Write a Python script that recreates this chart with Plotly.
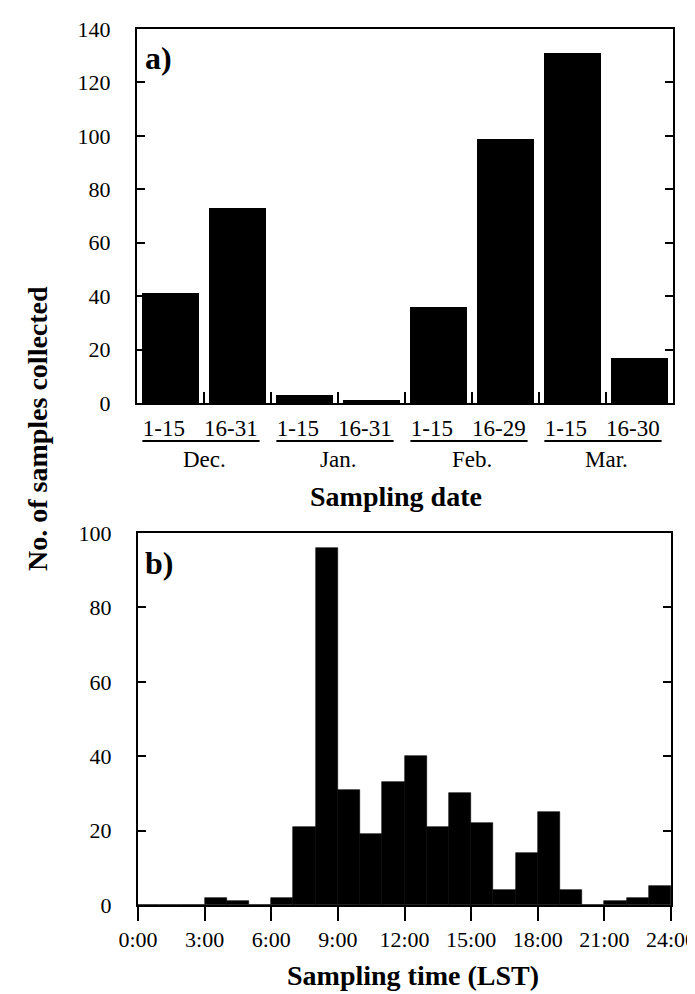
import plotly.graph_objects as go
import numpy as np

# ---- data ----
period_labels = ["1-15", "16-31", "1-15", "16-31", "1-15", "16-29", "1-15", "16-30"]
month_labels = ["Dec.", "Jan.", "Feb.", "Mar."]
date_counts = [41, 73, 3, 1, 36, 99, 131, 17]

hour_tick_labels = ["0:00", "3:00", "6:00", "9:00", "12:00", "15:00", "18:00", "21:00", "24:00"]
hour_tick_values = [0, 3, 6, 9, 12, 15, 18, 21, 24]
hourly_counts = [0, 0, 0, 2, 1, 0, 2, 21, 96, 31, 19, 33, 40, 21, 30, 22, 4, 14, 25, 4, 0, 1, 2, 5]

date_yticks = [0, 20, 40, 60, 80, 100, 120, 140]
time_yticks = [0, 20, 40, 60, 80, 100]

W, H = 695, 994
FONT = "Liberation Serif"

def px_x(v):
    return v / W

def px_y(v):
    return 1 - v / H

fig = go.Figure()

# panel a
idx = np.arange(len(date_counts))
fig.add_trace(go.Bar(x=idx, y=date_counts, width=0.86, marker=dict(color="black", line=dict(width=0)),
                     xaxis="x", yaxis="y", showlegend=False, hoverinfo="x+y"))

# panel b
hour_starts = np.arange(len(hourly_counts))
fig.add_trace(go.Bar(x=hour_starts + 0.5, y=hourly_counts, width=1.0,
                     marker=dict(color="black", line=dict(width=0.6, color="black")),
                     xaxis="x2", yaxis="y2", showlegend=False))

tickfont = dict(family=FONT, size=22, color="black")
catfont = dict(family=FONT, size=23, color="black")

fig.update_layout(
    width=W, height=H,
    margin=dict(l=0, r=0, t=0, b=0, autoexpand=False),
    paper_bgcolor="white", plot_bgcolor="white",
    bargap=0,
    xaxis=dict(
        domain=[px_x(129), px_x(665)], anchor="y", automargin=False,
        range=[-0.5, len(date_counts) - 0.5],
        tickmode="array", tickvals=list(idx - 0.1), ticktext=period_labels,
        ticks="", showgrid=False, zeroline=False,
        showline=True, linecolor="black", linewidth=2, mirror=True,
        tickfont=catfont, ticklabelstandoff=3,
        minor=dict(tickmode="array", tickvals=list(idx[:-1] + 0.5), ticks="inside",
                   ticklen=11, tickwidth=2, tickcolor="black", showgrid=False),
    ),
    yaxis=dict(
        domain=[px_y(395), px_y(21)], anchor="x", automargin=False,
        range=[0, 140], tickmode="array", tickvals=date_yticks,
        ticks="inside", ticklen=8, tickwidth=2, tickcolor="black",
        showline=True, linecolor="black", linewidth=2, mirror="ticks",
        showgrid=False, zeroline=False, tickfont=tickfont, ticklabelstandoff=20,
    ),
    xaxis2=dict(
        domain=[px_x(130), px_x(663)], anchor="y2", automargin=False,
        range=[0, 24], tickmode="array", tickvals=hour_tick_values, ticktext=hour_tick_labels,
        ticks="outside", ticklen=14, tickwidth=2, tickcolor="black",
        showline=True, linecolor="black", linewidth=2, mirror=True,
        showgrid=False, zeroline=False, tickfont=tickfont,
    ),
    yaxis2=dict(
        domain=[px_y(897), px_y(525)], anchor="x2", automargin=False,
        range=[0, 100], tickmode="array", tickvals=time_yticks,
        ticks="inside", ticklen=8, tickwidth=2, tickcolor="black",
        showline=True, linecolor="black", linewidth=2, mirror="ticks",
        showgrid=False, zeroline=False, tickfont=tickfont, ticklabelstandoff=20,
    ),
)

annotations = []
shapes = []
for g, m in enumerate(month_labels):
    c = 2 * g + 0.5
    annotations.append(dict(x=c, y=px_y(451), xref="x", yref="paper", text=m, showarrow=False,
                            font=catfont, xanchor="center", yanchor="middle"))
    shapes.append(dict(type="line", xref="x", yref="paper", x0=c - 0.92, x1=c + 0.83,
                       y0=px_y(433), y1=px_y(433), line=dict(color="black", width=2)))

title_font = dict(family=FONT, size=28, color="black")
annotations += [
    dict(x=px_x(388), y=px_y(488), xref="paper", yref="paper", text="<b>Sampling date</b>",
         showarrow=False, font=title_font, xanchor="center", yanchor="middle"),
    dict(x=px_x(405), y=px_y(967), xref="paper", yref="paper", text="<b>Sampling time (LST)</b>",
         showarrow=False, font=title_font, xanchor="center", yanchor="middle"),
    dict(x=px_x(30), y=px_y(421), xref="paper", yref="paper", text="<b>No. of samples collected</b>",
         showarrow=False, font=title_font, textangle=-90, xanchor="center", yanchor="middle"),
    dict(x=px_x(135), y=px_y(50), xref="paper", yref="paper", text="<b>a)</b>",
         showarrow=False, font=dict(family=FONT, size=32, color="black"), xanchor="left", yanchor="middle"),
    dict(x=px_x(135), y=px_y(555), xref="paper", yref="paper", text="<b>b)</b>",
         showarrow=False, font=dict(family=FONT, size=32, color="black"), xanchor="left", yanchor="middle"),
]
fig.update_layout(annotations=annotations, shapes=shapes)

fig.write_html("out.html")
